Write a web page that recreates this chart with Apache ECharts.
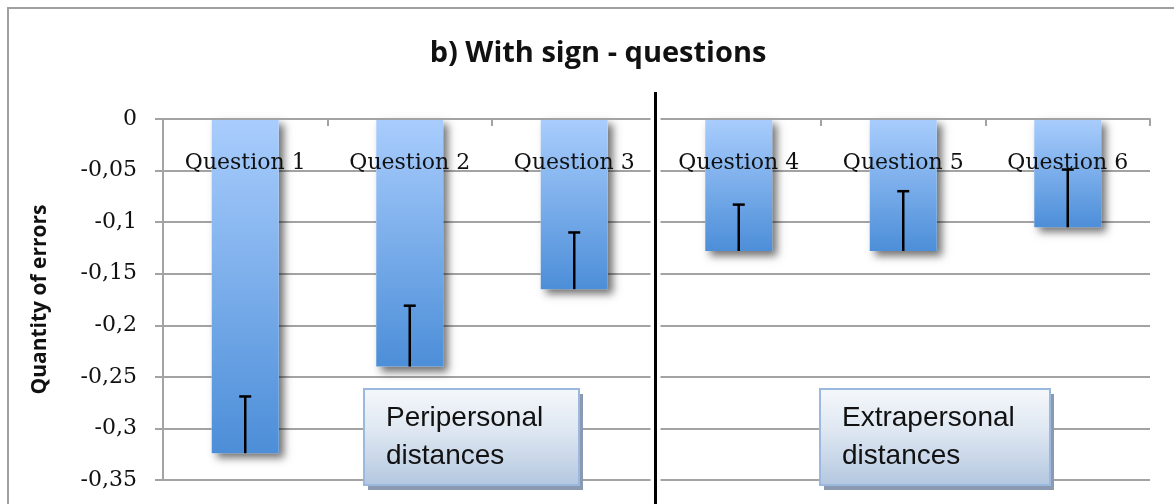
<!DOCTYPE html>
<html>
<head>
<meta charset="utf-8">
<script src="https://cdn.jsdelivr.net/npm/echarts@6/dist/echarts.min.js"></script>
<style>
  html, body { margin: 0; padding: 0; background: #ffffff; }
  #chart { width: 1174px; height: 504px; }
</style>
</head>
<body>
<div id="chart"></div>
<script>
// Questions on the category axis
const categories = ['Question 1', 'Question 2', 'Question 3', 'Question 4', 'Question 5', 'Question 6'];
// Mean signed error per question
const meanErrors = [-0.324, -0.240, -0.165, -0.128, -0.128, -0.105];
// Error-bar length, drawn from the bar end toward zero
const errorMargins = [0.055, 0.059, 0.055, 0.045, 0.058, 0.056];
// Value axis range and step
const yMin = -0.35;
const yMax = 0;
const yStep = 0.05;
// Group captions
const groupCaptions = ['Peripersonal\ndistances', 'Extrapersonal\ndistances'];

const chart = echarts.init(document.getElementById('chart'), null, { renderer: 'canvas' });

const serif = '"DejaVu Serif", "Liberation Serif", serif';
const gridColor = '#a3a3a3';
const barWidth = 67;

const barGradient = new echarts.graphic.LinearGradient(0, 0, 0, 1, [
  { offset: 0, color: '#a9cdfd' },
  { offset: 1, color: '#4c8ed8' }
]);

const captionGradient = new echarts.graphic.LinearGradient(0, 0, 0, 1, [
  { offset: 0, color: '#f6f8fb' },
  { offset: 0.45, color: '#dde6f1' },
  { offset: 1, color: '#b3c7e0' }
]);

function captionBox(x, y, w, h, text) {
  return {
    type: 'group',
    x: x,
    y: y,
    z: 20,
    children: [
      { type: 'rect', shape: { x: 4, y: 5, width: w, height: h }, style: { fill: '#8b9ab0' } },
      { type: 'rect', shape: { x: 0, y: 0, width: w, height: h },
        style: { fill: captionGradient, stroke: '#9bb9de', lineWidth: 2 } },
      { type: 'text', x: 22, y: 10,
        style: { text: text, font: '28px "Liberation Sans", Arial, sans-serif', fill: '#111111', lineHeight: 38 } }
    ]
  };
}

// Soft drop shadow under each bar, drawn from the same values as the bars
function barShadow(params, api) {
  const end = api.coord([api.value(0), api.value(1)]);
  const zero = api.coord([api.value(0), 0]);
  return {
    type: 'rect',
    shape: { x: end[0] - barWidth / 2, y: zero[1], width: barWidth, height: end[1] - zero[1] },
    style: {
      fill: '#ffffff',
      shadowColor: 'rgba(0,0,0,0.55)',
      shadowBlur: 8,
      shadowOffsetX: 5,
      shadowOffsetY: 5
    }
  };
}

const option = {
  animation: false,
  backgroundColor: '#ffffff',
  title: {
    text: 'b) With sign - questions',
    left: 593,
    textAlign: 'center',
    top: 34,
    textStyle: { fontFamily: '"Open Sans", sans-serif', fontWeight: 'bold', fontSize: 29, color: '#111111' }
  },
  grid: { left: 163, right: 24, top: 119, bottom: 24, containLabel: false, outerBoundsMode: 'none' },
  xAxis: {
    type: 'category',
    data: categories,
    position: 'top',
    z: 4,
    axisLine: { onZero: false, lineStyle: { color: gridColor, width: 2 } },
    axisTick: { show: true, inside: true, length: 7, lineStyle: { color: gridColor, width: 2 } },
    axisLabel: { inside: true, margin: 33, fontFamily: serif, fontSize: 22, color: '#111111' },
    splitLine: { show: false }
  },
  yAxis: {
    type: 'value',
    min: yMin,
    max: yMax,
    interval: yStep,
    name: 'Quantity of errors',
    nameLocation: 'middle',
    nameRotate: 90,
    nameGap: 112,
    nameTextStyle: { fontFamily: '"Open Sans", sans-serif', fontWeight: 'bold', fontSize: 21, color: '#111111' },
    axisLine: { show: true, lineStyle: { color: gridColor, width: 2 } },
    axisTick: { show: true, length: 8, lineStyle: { color: gridColor, width: 2 } },
    axisLabel: {
      margin: 26,
      fontFamily: serif,
      fontSize: 22,
      color: '#111111',
      formatter: function (v) { return String(+v.toFixed(2)).replace('.', ','); }
    },
    splitLine: { show: true, lineStyle: { color: gridColor, width: 2 } }
  },
  series: [
    {
      type: 'custom',
      z: 1,
      clip: false,
      data: meanErrors.map(function (v, i) { return [i, v]; }),
      renderItem: barShadow
    },
    {
      type: 'bar',
      data: meanErrors,
      barWidth: barWidth,
      z: 2,
      itemStyle: { color: barGradient }
    },
    {
      type: 'custom',
      z: 6,
      data: meanErrors.map(function (v, i) { return [i, v, v + errorMargins[i]]; }),
      renderItem: function (params, api) {
        const low = api.coord([api.value(0), api.value(1)]);
        const high = api.coord([api.value(0), api.value(2)]);
        const cap = 6;
        const style = { stroke: '#000000', lineWidth: 2.5 };
        return {
          type: 'group',
          children: [
            { type: 'line', shape: { x1: low[0], y1: low[1], x2: high[0], y2: high[1] }, style: style },
            { type: 'line', shape: { x1: high[0] - cap, y1: high[1], x2: high[0] + cap, y2: high[1] }, style: style }
          ]
        };
      }
    }
  ]
};

chart.setOption(option);

// Separator between the two groups of questions, placed halfway between Question 3 and Question 4
const leftCenter = chart.convertToPixel({ xAxisIndex: 0 }, categories[2]);
const rightCenter = chart.convertToPixel({ xAxisIndex: 0 }, categories[3]);
const sepX = Math.round((leftCenter + rightCenter) / 2) - 1.5;
const topY = chart.convertToPixel({ yAxisIndex: 0 }, yMax);
const bottomY = chart.convertToPixel({ yAxisIndex: 0 }, yMin);

chart.setOption({
  graphic: [
    { type: 'rect', z: 0, silent: true,
      shape: { x: 8, y: 8, width: 1190, height: 520 },
      style: { fill: 'none', stroke: '#a0a0a0', lineWidth: 2 } },
    { type: 'rect', z: 10, silent: true,
      shape: { x: sepX - 5, y: topY - 1, width: 10, height: bottomY - topY + 3 },
      style: { fill: '#ffffff' } },
    { type: 'line', z: 11, silent: true,
      shape: { x1: sepX, y1: 92, x2: sepX, y2: 510 },
      style: { stroke: '#000000', lineWidth: 3 } },
    captionBox(364, 389, 215, 96, groupCaptions[0]),
    captionBox(820, 389, 230, 96, groupCaptions[1])
  ]
});
</script>
</body>
</html>
